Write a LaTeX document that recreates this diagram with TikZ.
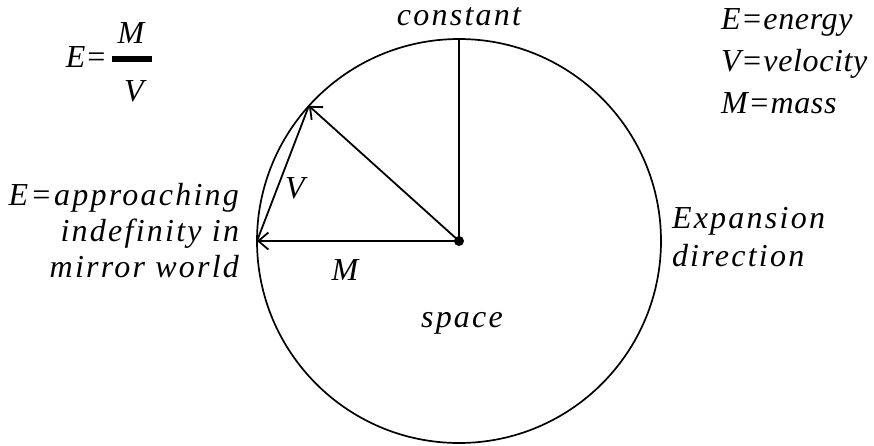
\documentclass[tikz,border=0pt]{standalone}
\usepackage{fontspec}
\setmainfont{Liberation Serif}
\newfontfamily\labelfont[LetterSpace=7]{Liberation Serif}
\newfontfamily\legendfont[LetterSpace=2]{Liberation Serif}
\usetikzlibrary{arrows.meta,positioning}

\begin{document}
\begin{tikzpicture}[x=1pt, y=-1pt,
  every node/.style={font=\labelfont\itshape\fontsize{32}{36}\selectfont, inner sep=0pt, outer sep=0pt},
  vec/.style={line width=1.8pt, -{Straight Barb[length=10pt, width=17pt, line width=1.8pt]}},
  plain/.style={line width=1.8pt},
]
  \useasboundingbox (0,0) rectangle (874,445);

  %% circle of space and its centre
  \node[circle, draw, line width=1.7pt, minimum size=404pt] (rim) at (459,241) {};
  \node[circle, fill, minimum size=10pt] (O) at (459,241) {};

  %% radii
  \draw[plain] (O.center) -- (rim.north);
  \draw[vec] (O.center) -- (rim.west);
  \draw[vec] (O.center) -- (rim.138);
  \draw[plain] (rim.west) -- (rim.138);

  %% labels on the figure
  \node (lblV) at (295,188) {V};
  \node (lblM) at (345,270) {M};
  \node (lblspace) at (462,323) {space};
  \node[anchor=base] (lblconst) at (459,25) {constant};

  %% formula top left
  \node[anchor=base east, font=\itshape\fontsize{32}{36}\selectfont] (formE) at (107,67) {E=};
  \node[fill=black, minimum width=40pt, minimum height=6pt] (bar) at (132,59) {};
  \node[anchor=base] (formM) at (131,43) {M};
  \node[anchor=base] (formV) at (134,101) {V};

  %% legend top right
  \node[anchor=north west, align=left, font=\legendfont\itshape\fontsize{32}{42}\selectfont] (legend) at (721,9)
    {E=energy\\V=velocity\\M=mass};

  %% side texts
  \node[anchor=north west, align=left, font=\labelfont\itshape\fontsize{32}{38}\selectfont] (expand) at (672,207)
    {Expansion\\direction};
  \node[anchor=north east, align=right, font=\labelfont\itshape\fontsize{32}{36}\selectfont] (mirror) at (239,183)
    {E=approaching\\indefinity in\\mirror world};
\end{tikzpicture}
\end{document}
